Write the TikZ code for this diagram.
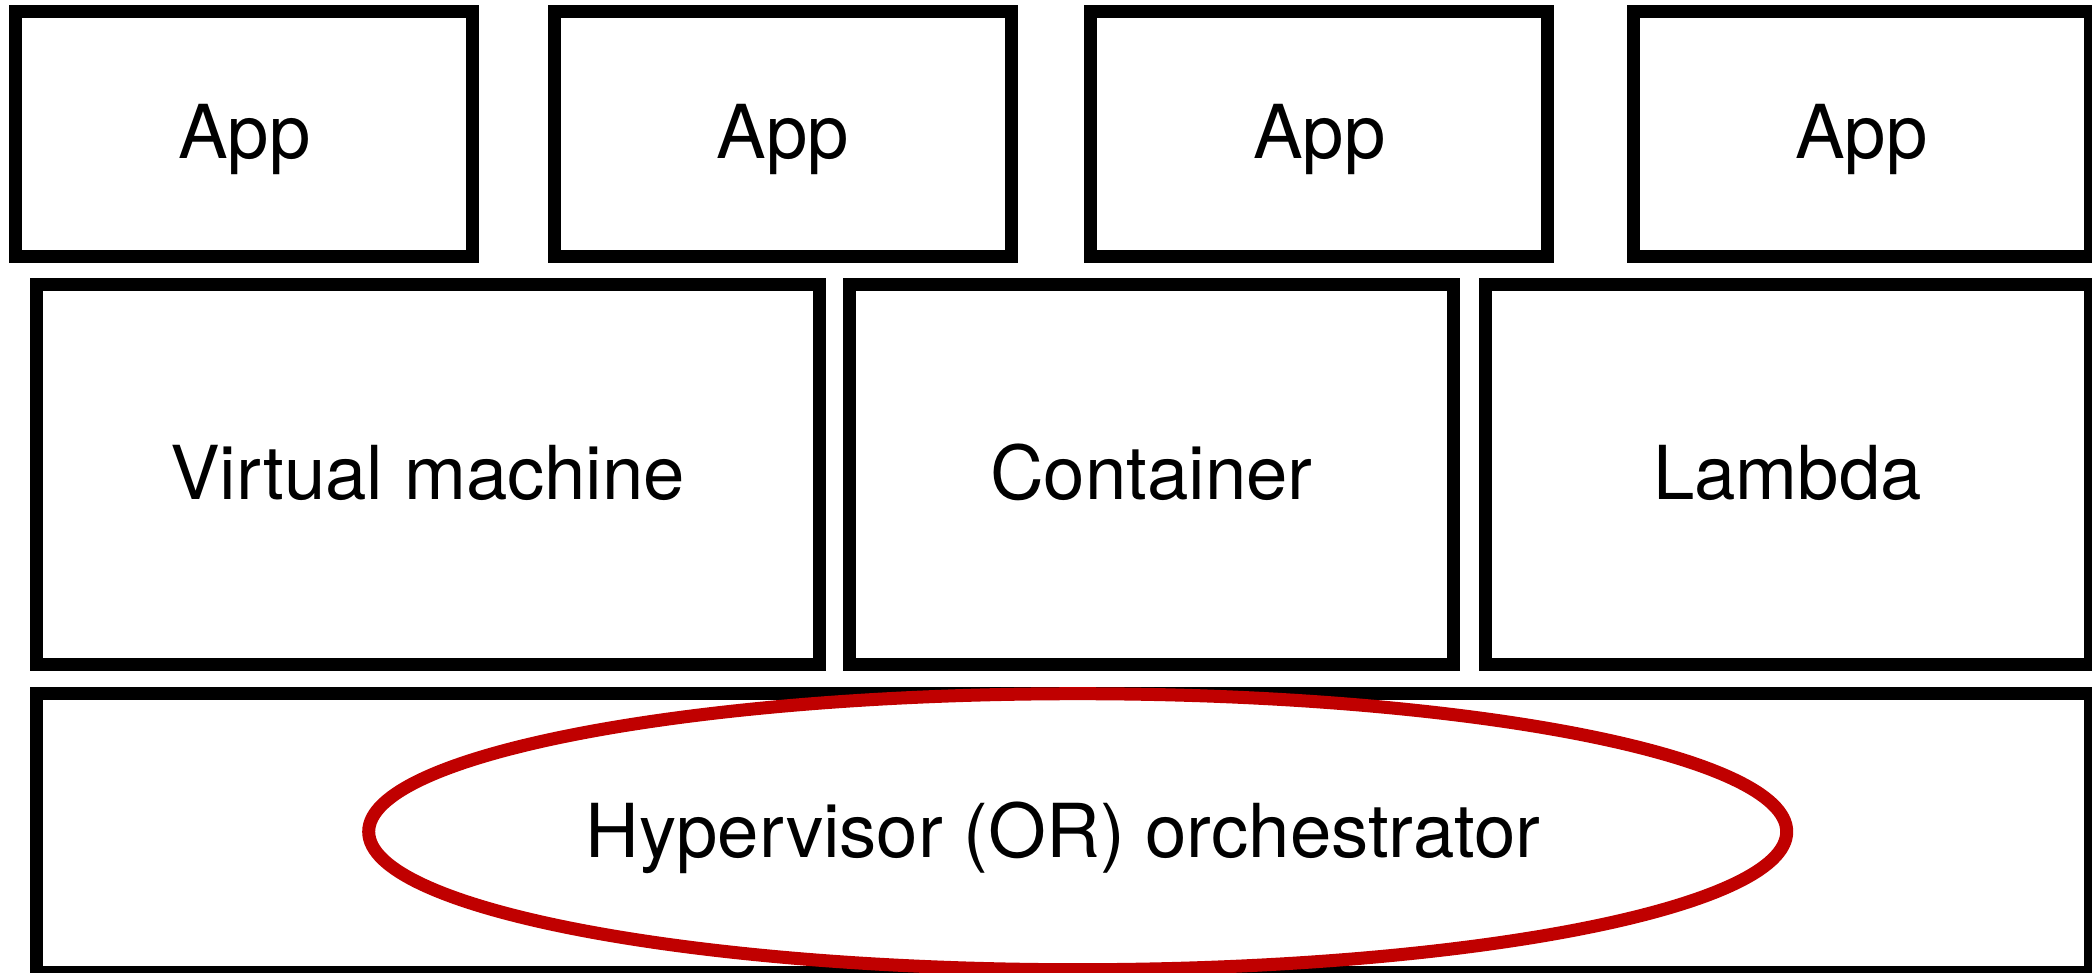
\documentclass[tikz,border=0pt]{standalone}
\usepackage{fontspec}
\setmainfont{TeX Gyre Heros}
\usetikzlibrary{shapes.geometric}
\definecolor{ringred}{RGB}{192,0,0}
\tikzset{
  layerbox/.style={draw=black, line width=13pt, rectangle, inner sep=0pt, outer sep=0pt,
    font=\fontsize{74.4}{80}\selectfont, text height=53.4pt, text depth=4pt},
  ring/.style={draw=ringred, line width=13pt, ellipse, inner sep=0pt, outer sep=0pt}
}
\begin{document}
\begin{tikzpicture}[x=1pt,y=-1pt]
\fill[white] (0,0) rectangle (2092,973);
\clip (0,0) rectangle (2092,973);
% App row
\node[layerbox, minimum width=457pt, minimum height=245pt] (app1) at (244.25,133.7) {App};
\node[layerbox, minimum width=457pt, minimum height=245pt] (app2) at (782.75,133.7) {App};
\node[layerbox, minimum width=457pt, minimum height=245pt] (app3) at (1319.25,133.7) {App};
\node[layerbox, minimum width=457pt, minimum height=245pt] (app4) at (1861.5,134.3) {App};
% Runtime row
\node[layerbox, minimum width=783.5pt, minimum height=379.5pt] (vm) at (427.75,474.75) {Virtual machine};
\node[layerbox, minimum width=604.7pt, minimum height=379.5pt] (container) at (1151.35,474.75) {Container};
\node[layerbox, minimum width=605pt, minimum height=379.5pt] (lambda) at (1787.5,474.75) {Lambda};
% Base layer
\node[layerbox, minimum width=2054pt, minimum height=278.7pt] (hyper) at (1063,832.65) {Hypervisor (OR) orchestrator};
\node[ring, minimum width=1418pt, minimum height=276pt] (hyperring) at (1077.7,831.7) {};
\end{tikzpicture}
\end{document}
